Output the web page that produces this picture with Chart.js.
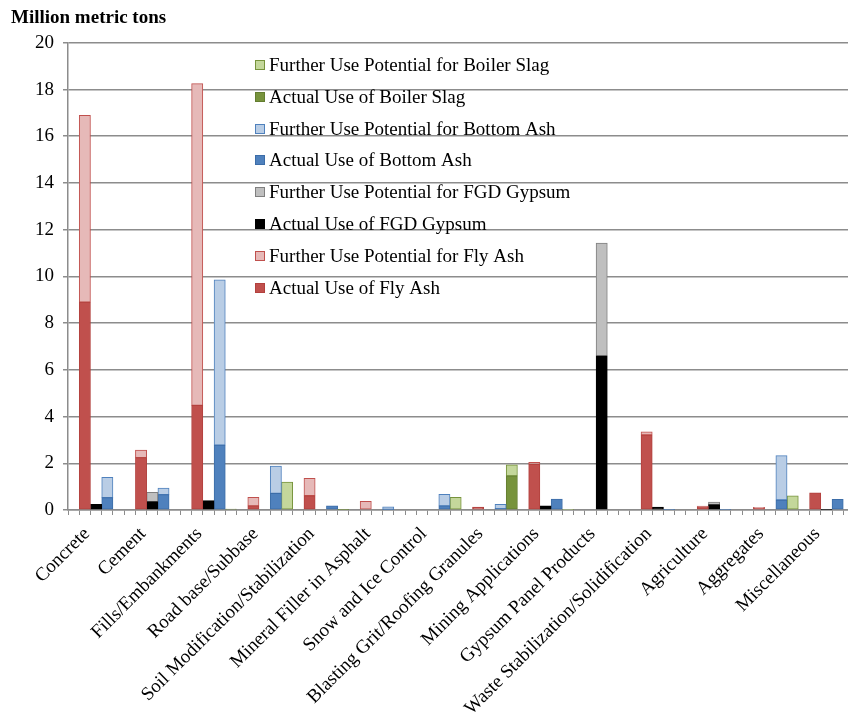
<!DOCTYPE html>
<html>
<head>
<meta charset="utf-8">
<script src="https://cdn.jsdelivr.net/npm/chart.js@4.4.0/dist/chart.umd.min.js"></script>
<style>
  html, body { margin: 0; padding: 0; background: #fff; overflow: hidden; }
  #wrap { position: relative; width: 873px; height: 715px; }
</style>
</head>
<body>
<div id="wrap"><canvas id="ccpChart"></canvas></div>
<script>
// categories of use
const categories = [
  "Concrete",
  "Cement",
  "Fills/Embankments",
  "Road base/Subbase",
  "Soil Modification/Stabilization",
  "Mineral Filler in Asphalt",
  "Snow and Ice Control",
  "Blasting Grit/Roofing Granules",
  "Mining Applications",
  "Gypsum Panel Products",
  "Waste Stabilization/Solidification",
  "Agriculture",
  "Aggregates",
  "Miscellaneous",
];

// million metric tons (potential = further use on top of actual)
const flyAshActual      = [8.9, 2.24, 4.48, 0.18, 0.61, 0, 0, 0.12, 1.96, 0, 3.21, 0.15, 0.08, 0.74];
const flyAshPotential   = [8.0, 0.32, 13.77, 0.36, 0.75, 0.37, 0, 0, 0.08, 0, 0.14, 0.02, 0.03, 0];
const fgdActual         = [0.24, 0.36, 0.4, 0, 0, 0, 0, 0, 0.18, 6.6, 0.13, 0.23, 0, 0.02];
const fgdPotential      = [0, 0.4, 0, 0, 0, 0, 0, 0, 0, 4.83, 0, 0.11, 0, 0];
const bottomAshActual   = [0.53, 0.66, 2.78, 0.71, 0.18, 0.03, 0.18, 0.06, 0.47, 0, 0.02, 0.02, 0.43, 0.46];
const bottomAshPotential= [0.87, 0.28, 7.07, 1.17, 0, 0.11, 0.49, 0.18, 0, 0, 0, 0, 1.9, 0];
const boilerSlagActual  = [0, 0, 0.04, 0, 0.02, 0, 0, 1.46, 0, 0, 0, 0, 0, 0];
const boilerSlagPotential = [0, 0, 0, 1.19, 0, 0, 0.54, 0.47, 0.03, 0, 0, 0, 0.61, 0];

const yTicks = [0, 2, 4, 6, 8, 10, 12, 14, 16, 18, 20];

// each category gets 5 slots: gap, fly ash, FGD, bottom ash, boiler slag
const SLOTS = 5;
const slotLabels = [];
categories.forEach(function (c) {
  slotLabels.push("", c, "", "", "");
});

function toSlots(values, pos) {
  const out = new Array(categories.length * SLOTS).fill(null);
  values.forEach(function (v, i) {
    out[i * SLOTS + 1 + pos] = v;
  });
  return out;
}

function makeSet(label, values, pos, bg, border) {
  return {
    label: label,
    data: toSlots(values, pos),
    backgroundColor: bg,
    borderColor: border,
    borderWidth: 1,
    borderSkipped: false,
    stack: "all",
    barPercentage: 1,
    categoryPercentage: 1,
  };
}

const datasets = [
  makeSet("Actual Use of Fly Ash", flyAshActual, 0, "#C0504D", "#B3413E"),
  makeSet("Further Use Potential for Fly Ash", flyAshPotential, 0, "#E6B9B8", "#C0504D"),
  makeSet("Actual Use of FGD Gypsum", fgdActual, 1, "#000000", "#000000"),
  makeSet("Further Use Potential for FGD Gypsum", fgdPotential, 1, "#BFBFBF", "#7F7F7F"),
  makeSet("Actual Use of Bottom Ash", bottomAshActual, 2, "#4F81BD", "#3C6DA8"),
  makeSet("Further Use Potential for Bottom Ash", bottomAshPotential, 2, "#B9CDE5", "#4F81BD"),
  makeSet("Actual Use of Boiler Slag", boilerSlagActual, 3, "#77933C", "#637D30"),
  makeSet("Further Use Potential for Boiler Slag", boilerSlagPotential, 3, "#C4D79B", "#77933C"),
];

const FONT = "'Liberation Serif', 'Times New Roman', serif";

// legend drawn inside the plot, newest series on top like the original
const insideLegend = {
  id: "insideLegend",
  afterDatasetsDraw(chart) {
    const ctx = chart.ctx;
    const area = chart.chartArea;
    const items = chart.data.datasets.slice().reverse();
    const x0 = area.left + 187;
    ctx.save();
    ctx.font = "19px " + FONT;
    ctx.textBaseline = "middle";
    items.forEach(function (ds, i) {
      const y = Math.round(area.top + 22 + i * 31.85);
      ctx.fillStyle = ds.backgroundColor;
      ctx.fillRect(x0, y - 5, 10, 10);
      ctx.strokeStyle = ds.borderColor;
      ctx.lineWidth = 1;
      ctx.strokeRect(x0 + 0.5, y - 4.5, 9, 9);
      ctx.fillStyle = "#000";
      ctx.fillText(ds.label, x0 + 14, y + 1);
    });
    ctx.restore();
  },
};

const ctx = document.getElementById("ccpChart");

const ccpChart = new Chart(ctx, {
  type: "bar",
  data: { labels: slotLabels, datasets: datasets },
  plugins: [insideLegend],
  options: {
    responsive: true,
    maintainAspectRatio: false,
    animation: false,
    layout: { padding: { left: 11, right: 0, top: 0, bottom: 0 } },
    scales: {
      x: {
        stacked: true,
        grid: {
          drawOnChartArea: false,
          drawTicks: true,
          tickLength: 5,
          color: "#8c8c8c",
          lineWidth: 1,
        },
        border: { display: true, color: "#8c8c8c", width: 1.5 },
        ticks: {
          autoSkip: false,
          maxRotation: 45,
          minRotation: 45,
          padding: 8,
          labelOffset: 2,
          color: "#000",
          font: { family: FONT, size: 19 },
        },
        afterFit: function (scale) {
          scale.height = 205;
        },
      },
      y: {
        stacked: true,
        min: 0,
        max: 20,
        afterBuildTicks: function (scale) {
          scale.ticks = yTicks.map(function (v) { return { value: v }; });
        },
        grid: {
          color: "#8c8c8c",
          lineWidth: 1.5,
          tickLength: 5,
        },
        border: { display: true, color: "#8c8c8c", width: 1.5 },
        ticks: {
          padding: 9,
          color: "#000",
          font: { family: FONT, size: 19 },
        },
        afterFit: function (scale) {
          scale.width = 57;
        },
      },
    },
    plugins: {
      legend: { display: false },
      tooltip: { enabled: false },
      title: {
        display: true,
        text: "Million metric tons",
        align: "start",
        color: "#000",
        font: { family: FONT, size: 19, weight: "bold" },
        padding: { top: 7, bottom: 13 },
      },
    },
  },
});
</script>
</body>
</html>
